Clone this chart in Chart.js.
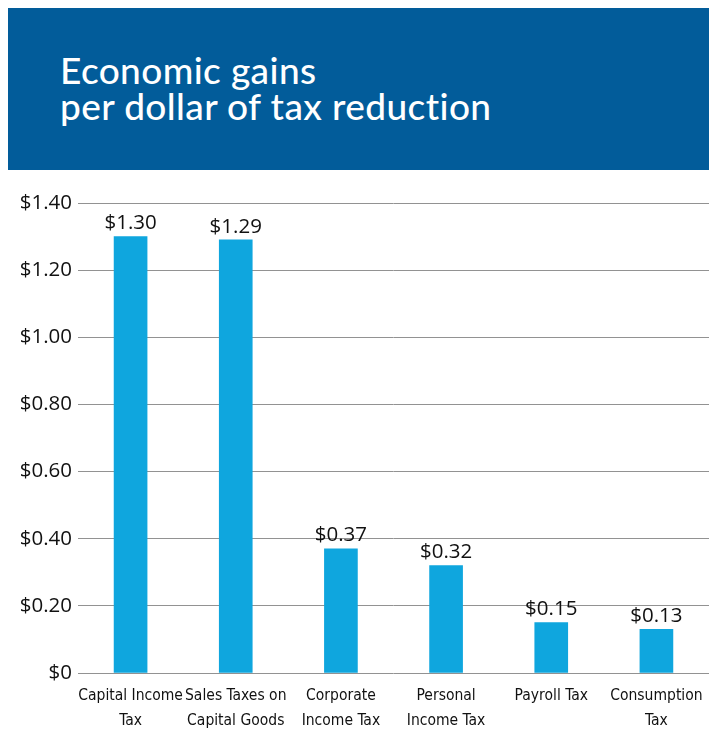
<!DOCTYPE html>
<html><head><meta charset="utf-8">
<script src="https://cdn.jsdelivr.net/npm/chart.js@4/dist/chart.umd.min.js"></script>
<style>
html,body{margin:0;padding:0;background:#fff;width:714px;height:730px;overflow:hidden;}
#hdr{position:absolute;left:8px;top:8px;width:701px;height:162px;background:#025c9a;}
#hdr div{position:absolute;left:52px;top:44px;color:#fff;font-family:Lato,"Open Sans",sans-serif;font-weight:500;font-size:37px;line-height:36px;letter-spacing:0.4px;}
#wrap{position:absolute;left:0;top:180px;width:714px;height:550px;}
</style></head>
<body>
<div id="hdr"><div>Economic gains<br>per dollar of tax reduction</div></div>
<div id="wrap"><canvas id="c" width="714" height="550"></canvas></div>
<script>
const categories = [["Capital Income","Tax"],["Sales Taxes on","Capital Goods"],["Corporate","Income Tax"],["Personal","Income Tax"],["Payroll Tax"],["Consumption","Tax"]];
const values = [1.30, 1.29, 0.37, 0.32, 0.15, 0.13];
const tickValues = [0, 0.2, 0.4, 0.6, 0.8, 1.0, 1.2, 1.4];

const fmt = v => v === 0 ? "$0" : "$" + v.toFixed(2);

const dataLabels = {
  id: "dataLabels",
  afterDatasetsDraw(chart) {
    const ctx = chart.ctx;
    const meta = chart.getDatasetMeta(0);
    ctx.save();
    ctx.font = '20.5px "Open Sans", sans-serif';
    ctx.fillStyle = "#111";
    ctx.textAlign = "center";
    ctx.textBaseline = "bottom";
    meta.data.forEach((bar, i) => {
      ctx.fillText(fmt(values[i]), bar.x, bar.y - 3);
    });
    ctx.restore();
  }
};

new Chart(document.getElementById("c"), {
  type: "bar",
  data: {
    labels: categories,
    datasets: [{ data: values, backgroundColor: "#0fa6de", barThickness: 33 }]
  },
  options: {
    responsive: false,
    animation: false,
    layout: { padding: { top: 23, right: 5, left: 0, bottom: 0 } },
    plugins: { legend: { display: false }, tooltip: { enabled: false } },
    scales: {
      y: {
        min: 0, max: 1.4,
        afterBuildTicks: s => { s.ticks = tickValues.map(v => ({ value: v })); },
        afterFit: s => { s.width = 78; },
        border: { display: false },
        grid: { color: "#929292", lineWidth: 1, drawTicks: false },
        ticks: { padding: 6, color: "#111", font: { family: "Open Sans", size: 20.5 }, callback: v => fmt(v) }
      },
      x: {
        afterFit: s => { s.height = 57; },
        border: { display: false },
        grid: { display: false },
        ticks: { padding: 2, color: "#111", maxRotation: 0, autoSkip: false,
          font: { family: "Liberation Sans Narrow, DejaVu Sans Condensed, sans-serif", size: 15.5, lineHeight: 1.62 } }
      }
    }
  },
  plugins: [dataLabels]
});
</script>
</body></html>
